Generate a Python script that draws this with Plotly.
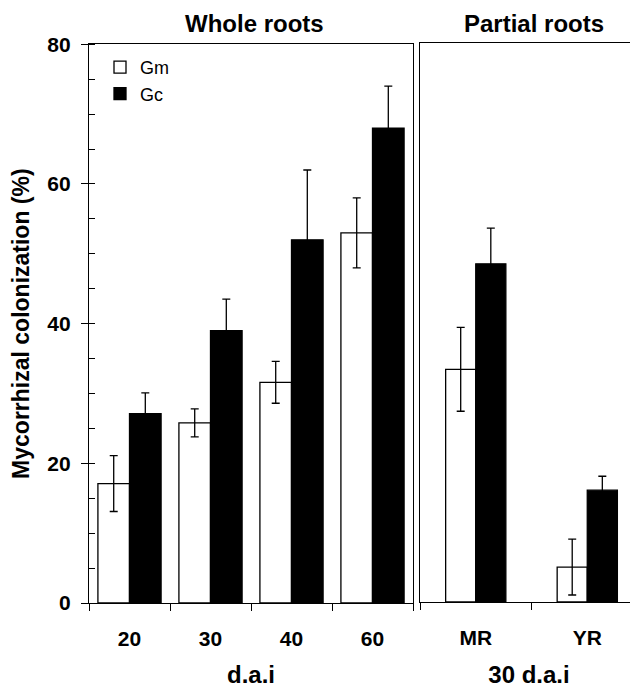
import plotly.graph_objects as go

# ---- data ----
whole_cats = ["20", "30", "40", "60"]
gm_whole = [17.1, 25.8, 31.6, 53.0]
gm_whole_err = [4.0, 2.0, 3.0, 5.0]
gc_whole = [27.1, 39.0, 52.0, 68.0]
gc_whole_err = [3.0, 4.5, 10.0, 6.0]

partial_cats = ["MR", "YR"]
gm_partial = [33.3, 5.0]
gm_partial_err = [6.0, 4.0]
gc_partial = [48.4, 16.0]
gc_partial_err = [5.1, 2.0]

# page body has an 8px margin; figure is sized to fit the window
OFF = 8
W, H = 638 - OFF, 688 - OFF
FONT = "Liberation Sans, Arial, sans-serif"
LW = 1.3

def px(x):
    return (x - OFF) / W

def py(y):
    return 1 - (y - OFF) / H

fig = go.Figure()

hw_left = 0.39
hw_right = 0.27

def add_pair(cats, gm, gme, gc, gce, hw, xa, ya, show):
    fig.add_trace(go.Bar(
        x=cats, y=gm, name="Gm", xaxis=xa, yaxis=ya,
        offset=-hw, width=hw, showlegend=show, legendgroup="Gm",
        marker=dict(color="white", line=dict(color="black", width=LW)),
        error_y=dict(type="data", array=gme, color="black", thickness=LW, width=4),
    ))
    fig.add_trace(go.Bar(
        x=cats, y=gc, name="Gc", xaxis=xa, yaxis=ya,
        offset=0, width=hw, showlegend=show, legendgroup="Gc",
        marker=dict(color="black", line=dict(color="black", width=LW)),
        error_y=dict(type="data", array=gce, color="black", thickness=LW, width=4),
    ))

add_pair(whole_cats, gm_whole, gm_whole_err, gc_whole, gc_whole_err, hw_left, "x", "y", True)
add_pair(partial_cats, gm_partial, gm_partial_err, gc_partial, gc_partial_err, hw_right, "x2", "y2", False)

tickfont = dict(family=FONT, size=21, color="black", weight="bold")
titlefont = dict(family=FONT, size=24, color="black", weight="bold")

fig.update_layout(
    width=W, height=H, autosize=False,
    margin=dict(l=0, r=0, t=0, b=0, pad=0),
    paper_bgcolor="white", plot_bgcolor="white",
    barmode="overlay",
    showlegend=True,
    legend=dict(
        x=px(100), y=py(49), xanchor="left", yanchor="top",
        font=dict(family=FONT, size=18, color="black"),
        bgcolor="rgba(0,0,0,0)", tracegroupgap=0,
    ),
    xaxis=dict(
        domain=[px(89), px(413)], type="category", range=[-0.5, 3.5],
        showline=True, linecolor="black", linewidth=LW, mirror=True,
        ticks="outside", tickson="boundaries", ticklen=7, tickwidth=LW, tickcolor="black",
        tickfont=tickfont, ticklabelstandoff=17, automargin=False,
        showgrid=False, zeroline=False, anchor="y",
        title=dict(text="d.a.i", font=titlefont, standoff=17),
    ),
    yaxis=dict(
        domain=[py(603), py(44.3)], range=[0, 80],
        showline=True, linecolor="black", linewidth=LW, mirror=True,
        ticks="outside", ticklen=7, tickwidth=LW, tickcolor="black",
        dtick=20, tick0=0, tickfont=tickfont, ticklabelstandoff=6, automargin=False,
        minor=dict(dtick=5, ticks="inside", ticklen=6, tickwidth=LW, tickcolor="black"),
        showgrid=False, zeroline=False, anchor="x",
        title=dict(text="Mycorrhizal colonization (%)", font=dict(family=FONT, size=23, color="black", weight="bold"), standoff=13),
    ),
    xaxis2=dict(
        domain=[px(420), 1.0], type="category", range=[-0.5, 1.455],
        showline=True, linecolor="black", linewidth=LW, mirror=True,
        ticks="outside", tickson="boundaries", ticklen=7, tickwidth=LW, tickcolor="black",
        tickfont=tickfont, ticklabelstandoff=17, automargin=False,
        showgrid=False, zeroline=False, anchor="y2",
        title=dict(text="30 d.a.i", font=titlefont, standoff=17),
    ),
    yaxis2=dict(
        domain=[py(602), py(43)], range=[0, 80],
        showline=True, linecolor="black", linewidth=LW, mirror=False,
        ticks="", showticklabels=False, automargin=False,
        showgrid=False, zeroline=False, anchor="x2",
    ),
    annotations=[
        dict(text="Whole roots", x=px(254), y=py(23), xref="paper", yref="paper",
             xanchor="center", yanchor="middle", showarrow=False, font=titlefont),
        dict(text="Partial roots", x=px(534), y=py(23), xref="paper", yref="paper",
             xanchor="center", yanchor="middle", showarrow=False, font=titlefont),
    ],
)

fig.write_html("out.html")
